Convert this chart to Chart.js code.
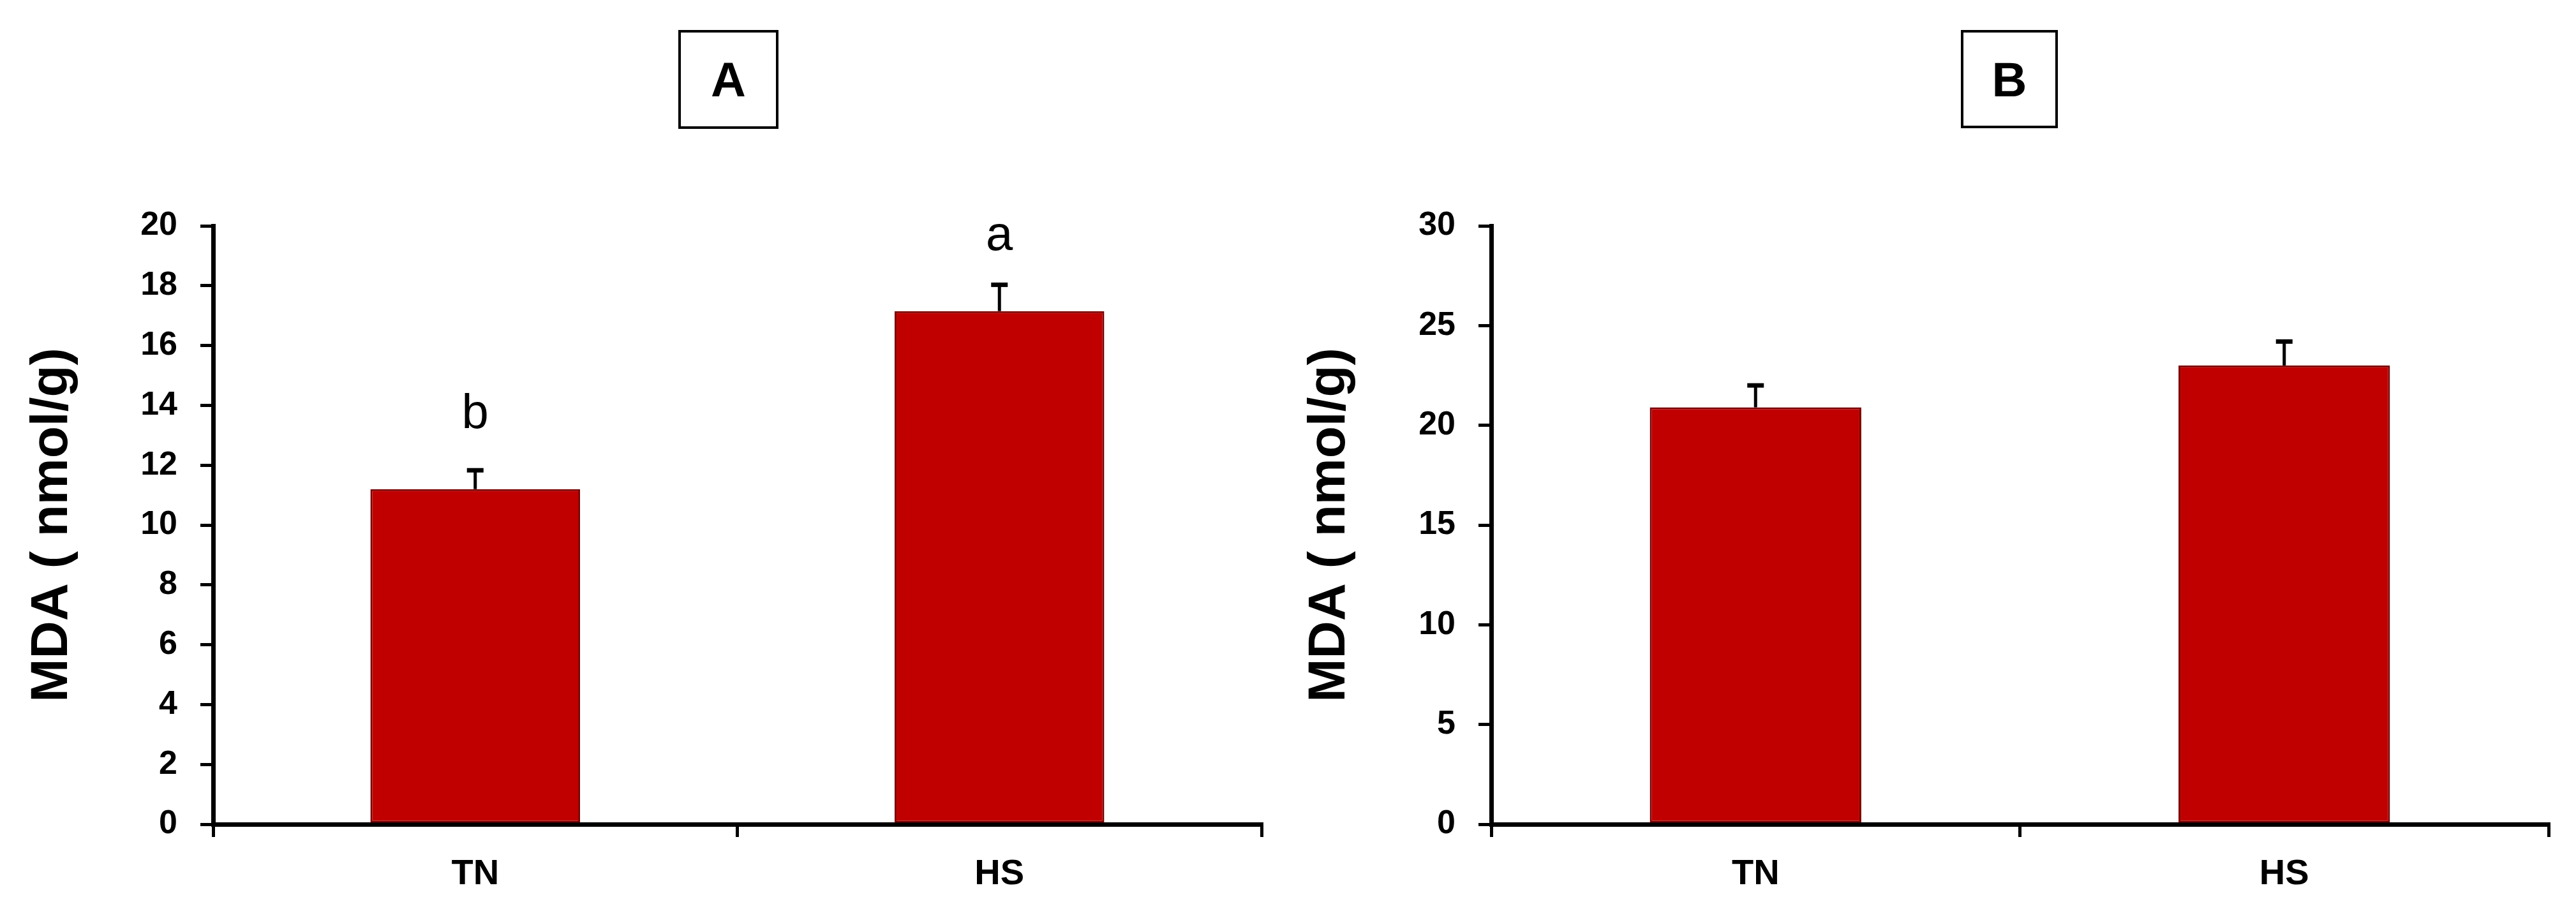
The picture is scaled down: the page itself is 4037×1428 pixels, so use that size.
<!DOCTYPE html>
<html>
<head>
<meta charset="utf-8">
<script src="https://cdn.jsdelivr.net/npm/chart.js@4.4.1/dist/chart.umd.min.js"></script>
<style>
  html, body { margin: 0; padding: 0; background: #fff; }
  #wrap { position: relative; width: 4037px; height: 1428px; overflow: hidden; }
  .panel { position: absolute; top: 0; height: 1428px; }
  .tag {
    position: absolute; box-sizing: border-box; border: 4px solid #000;
    display: flex; align-items: center; justify-content: center;
    font: bold 76px "Liberation Sans", Arial, sans-serif; color: #000;
  }
</style>
</head>
<body>
<div id="wrap">
  <div class="panel" style="left:0;width:2018px;"><canvas id="chartA" width="2018" height="1428"></canvas></div>
  <div class="panel" style="left:2018px;width:2019px;"><canvas id="chartB" width="2019" height="1428"></canvas></div>
  <div class="tag" style="left:1063px;top:47px;width:157px;height:155px;">A</div>
  <div class="tag" style="left:3073px;top:47px;width:152px;height:154px;">B</div>
</div>
<script>
// data
const groups = ["TN", "HS"];
const mdaA = [11.2, 17.15];
const errA = [0.63, 0.88];
const lettersA = ["b", "a"];
const letterAtA = [13.25, 19.2];
const mdaB = [20.9, 23.0];
const errB = [1.1, 1.2];
const yTicksA = [0, 2, 4, 6, 8, 10, 12, 14, 16, 18, 20];
const yTicksB = [0, 5, 10, 15, 20, 25, 30];

const yTitle = "MDA ( nmol/g)";

// error bars (upper only) + significance letters
const extrasPlugin = {
  id: "extras",
  afterDatasetsDraw(chart, args, opts) {
    const ctx = chart.ctx;
    const meta = chart.getDatasetMeta(0);
    const y = chart.scales.y;
    ctx.save();
    ctx.strokeStyle = "#000";
    ctx.lineWidth = 5;
    meta.data.forEach((bar, i) => {
      const v = opts.values[i];
      const top = y.getPixelForValue(v + opts.errors[i]);
      const base = y.getPixelForValue(v);
      ctx.beginPath();
      ctx.moveTo(bar.x, base);
      ctx.lineTo(bar.x, top);
      ctx.stroke();
      ctx.beginPath();
      ctx.lineWidth = 7;
      ctx.moveTo(bar.x - 13, top);
      ctx.lineTo(bar.x + 13, top);
      ctx.stroke();
      ctx.lineWidth = 5;
      if (opts.letters && opts.letters[i]) {
        ctx.fillStyle = "#000";
        ctx.font = '76px "Liberation Sans", Arial, sans-serif';
        ctx.textAlign = "center";
        ctx.textBaseline = "alphabetic";
        ctx.fillText(opts.letters[i], bar.x, y.getPixelForValue(opts.letterAt[i]));
      }
    });
    ctx.restore();
  }
};

function makeChart(id, values, errors, ticks, cfg) {
  const maxV = ticks[ticks.length - 1];
  return new Chart(document.getElementById(id), {
    type: "bar",
    data: {
      labels: groups,
      datasets: [{
        data: values,
        backgroundColor: "#C00000",
        borderColor: "#7a0000",
        borderWidth: 3,
        borderSkipped: false,
        barPercentage: 0.4,
        categoryPercentage: 1.0
      }]
    },
    plugins: [extrasPlugin],
    options: {
      responsive: false,
      animation: false,
      layout: { padding: { left: 0, top: 354, right: cfg.right, bottom: 0 } },
      plugins: {
        legend: { display: false },
        tooltip: { enabled: false },
        extras: { values: values, errors: errors, letters: cfg.letters, letterAt: cfg.letterAt }
      },
      scales: {
        x: {
          z: 1,
          afterFit: (s) => { s.height = 136; },
          border: { display: true, color: "#000", width: 7 },
          grid: { display: true, offset: true, drawOnChartArea: false, drawTicks: true, tickLength: 20, color: "#000", lineWidth: 5 },
          ticks: { color: "#000", padding: 25, font: { family: '"Liberation Sans", Arial, sans-serif', size: 56, weight: "bold" } }
        },
        y: {
          z: 1,
          min: 0,
          max: maxV,
          afterFit: (s) => { s.width = cfg.yWidth; },
          afterBuildTicks: (s) => { s.ticks = ticks.map(v => ({ value: v })); },
          border: { display: true, color: "#000", width: 7 },
          grid: { display: true, drawOnChartArea: false, drawTicks: true, tickLength: 20, color: "#000", lineWidth: 5 },
          ticks: { color: "#000", padding: 36, font: { family: '"Liberation Sans", Arial, sans-serif', size: 52, weight: "bold" } },
          title: {
            display: true,
            text: yTitle,
            color: "#000",
            padding: { top: cfg.titlePad, bottom: 0 },
            font: { family: '"Liberation Sans", Arial, sans-serif', size: 82, weight: "bold" }
          }
        }
      }
    }
  });
}

makeChart("chartA", mdaA, errA, yTicksA, { right: 41, yWidth: 334, titlePad: 33, letters: lettersA, letterAt: letterAtA });
makeChart("chartB", mdaB, errB, yTicksB, { right: 43, yWidth: 319, titlePad: 17 });
</script>
</body>
</html>
